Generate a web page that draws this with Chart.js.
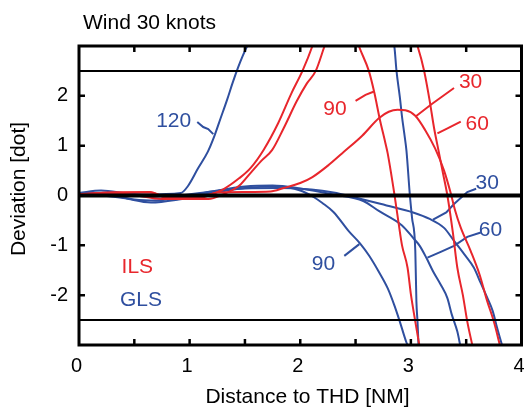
<!DOCTYPE html>
<html><head><meta charset="utf-8">
<script src="https://cdn.jsdelivr.net/npm/chart.js@4"></script>
<style>html,body{margin:0;padding:0;background:#fff}#wrap{width:524px;height:409px}</style>
</head><body><div id="wrap"><canvas id="c" width="524" height="409"></canvas></div>
<script>
const RED = '#e8262c', BLUE = '#2f4f9f';
const FONT = '"Liberation Sans", Arial, sans-serif';

// ILS (red) curves, [distance NM, deviation dot]
const ils30 = [[0,0.02],[0.3,0.06],[0.65,0.06],[0.8,-0.04],[1.1,-0.04],[1.25,0.06],[1.5,0.07],[1.73,0.08],[1.85,0.15],[2.0,0.25],[2.11,0.37],[2.25,0.6],[2.38,0.85],[2.56,1.2],[2.71,1.55],[2.8,1.68],[2.88,1.72],[2.95,1.71],[3.04,1.6],[3.13,1.31],[3.22,0.94],[3.30,0.5],[3.36,0.05],[3.40,-0.3],[3.45,-0.64],[3.54,-1.11],[3.62,-1.58],[3.69,-2.12],[3.75,-2.53],[3.81,-3.05]];
const ils60 = [[0,0.0],[0.4,0.03],[0.76,-0.07],[1.17,-0.07],[1.3,0.02],[1.45,0.2],[1.55,0.45],[1.65,0.7],[1.745,0.91],[1.85,1.35],[1.97,1.9],[2.06,2.25],[2.14,2.5],[2.22,3.0],[2.64,5.5],[3.06,3.0],[3.12,2.5],[3.17,1.9],[3.21,1.35],[3.25,0.9],[3.29,0.45],[3.33,0.0],[3.38,-0.75],[3.42,-1.45],[3.47,-2.0],[3.51,-2.53],[3.56,-3.05]];
const ils90 = [[0,0.03],[0.3,0.06],[0.64,0.07],[0.8,-0.05],[1.0,-0.05],[1.15,0.0],[1.3,0.12],[1.45,0.35],[1.55,0.55],[1.67,0.92],[1.8,1.45],[1.92,2.05],[2.02,2.5],[2.11,3.0],[2.32,4.5],[2.53,3.0],[2.62,2.5],[2.67,2.06],[2.72,1.52],[2.77,1.05],[2.79,0.85],[2.85,0.04],[2.89,-0.57],[2.92,-1.0],[2.97,-1.45],[3.0,-1.98],[3.04,-2.53],[3.08,-3.05]];

// GLS (blue) curves
const gls30 = [[0,0.05],[0.2,0.1],[0.4,0.05],[0.6,-0.02],[0.9,0.0],[1.2,0.08],[1.5,0.14],[1.8,0.15],[2.1,0.12],[2.3,0.06],[2.48,-0.03],[2.78,-0.2],[3.02,-0.34],[3.17,-0.47],[3.3,-0.65],[3.39,-0.91],[3.48,-1.17],[3.57,-1.45],[3.63,-1.75],[3.69,-2.05],[3.74,-2.32],[3.78,-2.66],[3.83,-3.05]];
const gls60 = [[0,0.03],[0.3,0.0],[0.5,-0.08],[0.7,-0.1],[0.9,-0.04],[1.2,0.08],[1.5,0.18],[1.75,0.2],[2.0,0.14],[2.3,0.02],[2.57,-0.11],[2.71,-0.31],[2.92,-0.6],[3.02,-0.85],[3.08,-1.01],[3.14,-1.25],[3.2,-1.52],[3.27,-1.79],[3.33,-2.06],[3.37,-2.39],[3.42,-2.73],[3.45,-3.05]];
const gls90 = [[0,0.05],[0.4,-0.05],[0.65,-0.14],[0.9,-0.08],[1.2,0.05],[1.5,0.15],[1.8,0.18],[2.0,0.1],[2.12,-0.03],[2.2,-0.15],[2.3,-0.33],[2.44,-0.72],[2.54,-0.96],[2.62,-1.2],[2.71,-1.53],[2.79,-1.86],[2.85,-2.2],[2.9,-2.53],[2.96,-2.95],[2.98,-3.05]];
const gls120 = [[0,0.05],[0.3,0.05],[0.6,0.02],[0.92,0.05],[0.985,0.19],[1.075,0.54],[1.165,0.88],[1.22,1.17],[1.28,1.55],[1.34,1.93],[1.39,2.27],[1.44,2.58],[1.48,2.8],[1.52,3.0],[2.2,6.0],[2.85,3.0],[2.87,2.5],[2.90,1.98],[2.92,1.58],[2.94,1.25],[2.96,0.9],[2.99,0.03],[3.01,-0.44],[3.04,-1.11],[3.05,-2.13],[3.06,-2.53],[3.07,-3.05]];

// reference lines
const refLevels = [2.5, -2.5];
const zeroLevel = 0;

// label leaders
const leadIls90 = [[2.5,1.90],[2.59,2.02],[2.667,2.087]];
const leadIls30 = [[3.39,2.156],[3.18,1.82],[3.04,1.58]];
const leadIls60 = [[3.451,1.481],[3.331,1.347],[3.24,1.246]];
const leadGls30 = [[3.59,0.135],[3.51,0.07],[3.39,-0.17],[3.32,-0.34],[3.20,-0.485]];
const leadGls60 = [[3.632,-0.741],[3.51,-0.83],[3.39,-1.01],[3.27,-1.13],[3.15,-1.246]];
const leadGls90 = [[2.398,-1.212],[2.534,-0.976]];
const leadGls120 = [[1.069,1.475],[1.123,1.374],[1.168,1.333],[1.214,1.232]];

// in-plot texts: [text, x, y(center), color, align]
const plotTexts = [
  ['90', 2.314, 1.77, RED, 'center'],
  ['30', 3.54, 2.30, RED, 'center'],
  ['60', 3.60, 1.46, RED, 'center'],
  ['30', 3.69, 0.29, BLUE, 'center'],
  ['60', 3.72, -0.67, BLUE, 'center'],
  ['90', 2.21, -1.35, BLUE, 'center'],
  ['120', 0.856, 1.525, BLUE, 'center'],
  ['ILS', 0.385, -1.41, RED, 'left'],
  ['GLS', 0.37, -2.06, BLUE, 'left']
];

const xTickMarks = [0.5,1,1.5,2,2.5,3,3.5];
const yTickMarks = [-2,-1,1,2];

const pts = a => a.map(p => ({x: p[0], y: p[1]}));
const curve = (a, c) => ({data: pts(a), borderColor: c, borderWidth: 2, showLine: true, pointRadius: 0, cubicInterpolationMode: 'monotone', fill: false});
const leader = (a, c) => ({data: pts(a), borderColor: c, borderWidth: 2, showLine: true, pointRadius: 0, tension: 0, fill: false});
const hline = (v, w) => ({data: [{x:0,y:v},{x:4,y:v}], borderColor: '#000', borderWidth: w, showLine: true, pointRadius: 0, tension: 0});

const decor = {
  id: 'decor',
  afterDatasetsDraw(chart) {
    const {ctx, chartArea: a, scales: {x, y}} = chart;
    ctx.save();
    ctx.strokeStyle = '#000'; ctx.lineWidth = 2.5;
    ctx.beginPath();
    xTickMarks.forEach(v => {
      const px = x.getPixelForValue(v);
      ctx.moveTo(px, a.bottom); ctx.lineTo(px, a.bottom - 6);
      ctx.moveTo(px, a.top); ctx.lineTo(px, a.top + 6);
    });
    yTickMarks.forEach(v => {
      const py = y.getPixelForValue(v);
      ctx.moveTo(a.left, py); ctx.lineTo(a.left + 6, py);
      ctx.moveTo(a.right, py); ctx.lineTo(a.right - 6, py);
    });
    ctx.stroke();
    ctx.lineWidth = 3;
    ctx.strokeRect(a.left, a.top, a.right - a.left, a.bottom - a.top);
    ctx.font = '21px ' + FONT;
    ctx.textBaseline = 'alphabetic';
    plotTexts.forEach(t => {
      ctx.fillStyle = t[3]; ctx.textAlign = t[4];
      ctx.fillText(t[0], x.getPixelForValue(t[1]), y.getPixelForValue(t[2]) + 7.5);
    });
    ctx.fillStyle = '#000';
    ctx.textAlign = 'left';
    ctx.fillText('Wind 30 knots', 83, 28.5);
    ctx.textAlign = 'center';
    ctx.fillText('Distance to THD [NM]', 307.5, 403);
    ctx.translate(19, 189);
    ctx.rotate(-Math.PI / 2);
    ctx.textBaseline = 'middle';
    ctx.fillText('Deviation [dot]', 0, 0);
    ctx.restore();
  }
};

new Chart(document.getElementById('c'), {
  type: 'scatter',
  data: {
    datasets: [
      hline(refLevels[0], 2), hline(refLevels[1], 2), hline(zeroLevel, 4),
      curve(ils30, RED), curve(ils60, RED), curve(ils90, RED),
      curve(gls30, BLUE), curve(gls60, BLUE), curve(gls90, BLUE), curve(gls120, BLUE),
      leader(leadIls90, RED), leader(leadIls30, RED), leader(leadIls60, RED),
      leader(leadGls30, BLUE), leader(leadGls60, BLUE), leader(leadGls90, BLUE), leader(leadGls120, BLUE)
    ]
  },
  options: {
    responsive: false,
    animation: false,
    layout: {padding: {top: 46, right: 2.5, left: 0, bottom: 0}},
    plugins: {legend: {display: false}, tooltip: {enabled: false}},
    scales: {
      x: {
        type: 'linear', min: 0, max: 4,
        grid: {display: false, drawTicks: false},
        border: {display: false},
        ticks: {stepSize: 1, padding: 9, labelOffset: -2.5, color: '#000', font: {family: FONT, size: 20}},
        afterFit(s) { s.height = 64; s.paddingLeft = 0; s.paddingRight = 0; }
      },
      y: {
        type: 'linear', min: -3, max: 3,
        grid: {display: false, drawTicks: false},
        border: {display: false},
        ticks: {stepSize: 1, padding: 11, color: '#000', font: {family: FONT, size: 20},
          callback: v => (Math.abs(v) > 2.5 ? '' : (v < 0 ? '-' + Math.abs(v) : String(v)))},
        afterFit(s) { s.width = 79; s.paddingTop = 0; s.paddingBottom = 0; }
      }
    }
  },
  plugins: [decor]
});
</script>
</body></html>
